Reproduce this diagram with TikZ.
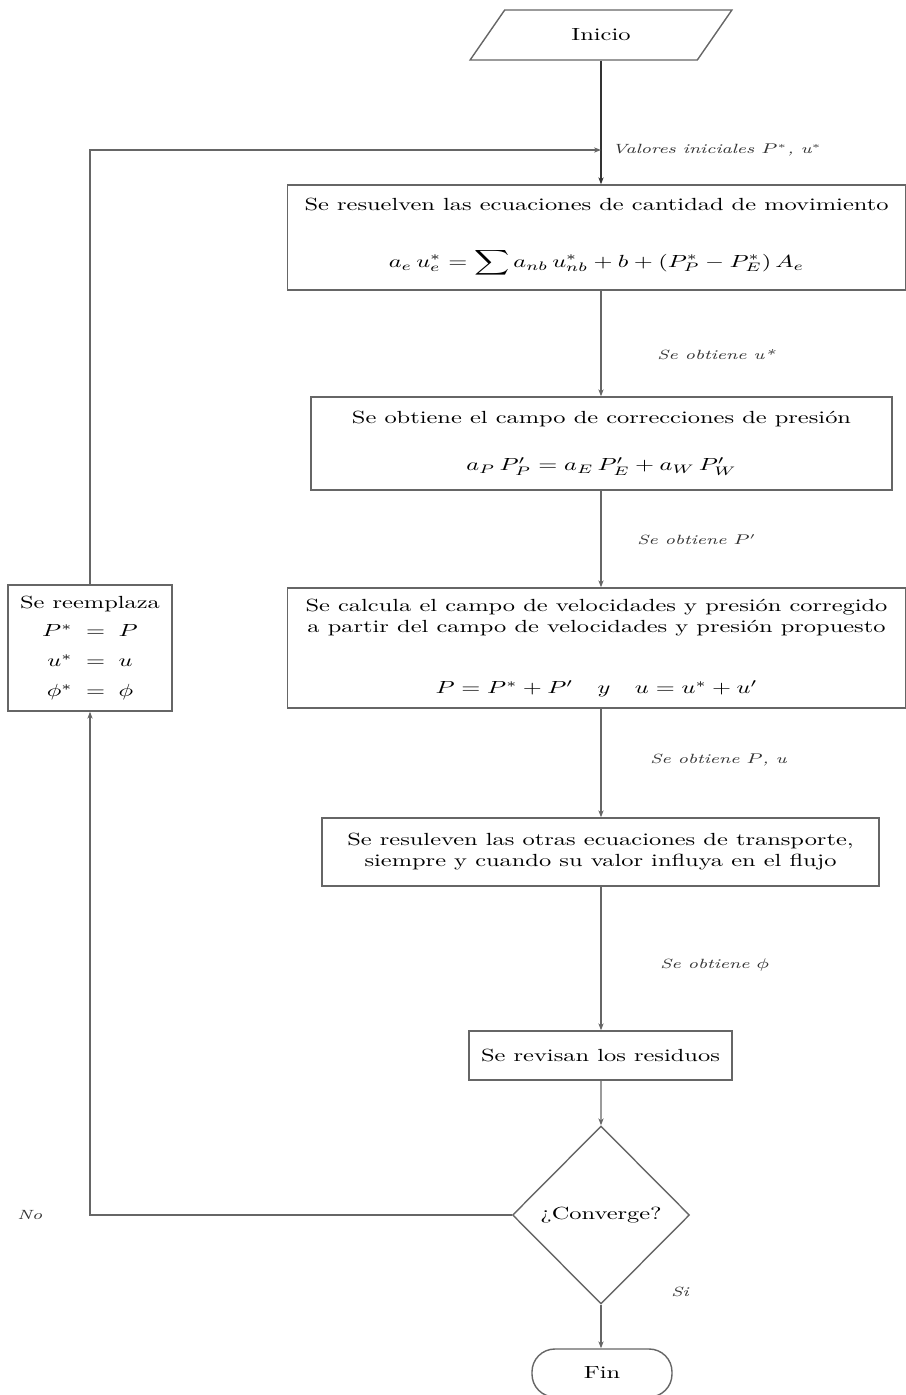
\documentclass[tikz,border=0pt]{standalone}
\usepackage{amsmath,amssymb}
\usepackage{graphicx}
\usetikzlibrary{shapes.geometric, arrows.meta, positioning}

% texto ensanchado horizontalmente
\newcommand{\ancho}[1]{\scalebox{1.39}[1]{#1}}

\begin{document}
\begin{tikzpicture}[
    font=\fontsize{10}{12}\selectfont,
    >={Stealth[length=4pt,width=3pt]},
    % Styles
    proceso/.style={rectangle, draw=black!60, thick, align=center, inner sep=3pt},
    inicio/.style={trapezium, trapezium left angle=62, trapezium right angle=118, trapezium stretches=true, draw=black!60, thick, minimum width=5.26cm, minimum height=1cm},
    decision/.style={diamond, draw=black!60, thick, minimum width=3.54cm, minimum height=3.56cm, inner sep=0pt},
    final/.style={rectangle, rounded corners=13pt, draw=black!60, thick, minimum width=2.8cm, minimum height=0.96cm},
    flecha/.style={->, draw=black!60, thick},
    etiqueta/.style={font=\itshape\fontsize{7.6}{9}\selectfont, anchor=west, text=black!80, inner sep=0pt}
]
\useasboundingbox (0,0) rectangle (18.12,-27.9);

% --- Main column ---
\node[inicio] (ini) at (12.02,-0.7) {\ancho{Inicio}};

\node[proceso, minimum width=12.36cm, minimum height=2.1cm] (mov) at (11.93,-4.75) {
    \ancho{Se resuelven las ecuaciones de cantidad de movimiento}\\[0.72cm]
    \ancho{$\displaystyle a_e\, u_e^{*} = \sum a_{nb}\, u_{nb}^{*} + b + (P_P^{*} - P_E^{*})\, A_e$}
};
\node[proceso, minimum width=11.62cm, minimum height=1.86cm] (pres) at (12.03,-8.87) {
    \ancho{Se obtiene el campo de correcciones de presi\'on}\\[0.52cm]
    \ancho{$a_P\, P_P' = a_E\, P_E' + a_W\, P_W'$}
};
\node[proceso, minimum width=12.36cm, minimum height=2.4cm] (corr) at (11.93,-12.96) {
    \ancho{Se calcula el campo de velocidades y presi\'on corregido}\\
    \ancho{a partir del campo de velocidades y presi\'on propuesto}\\[0.8cm]
    \ancho{$P = P^{*} + P' \quad y \quad u = u^{*} + u'$}
};
\node[proceso, minimum width=11.14cm, minimum height=1.36cm] (trans) at (12.01,-17.04) {
    \ancho{Se resuleven las otras ecuaciones de transporte,}\\
    \ancho{siempre y cuando su valor influya en el flujo}
};
\node[proceso, minimum width=5.26cm, minimum height=0.98cm] (resid) at (12.01,-21.11) {\ancho{Se revisan los residuos}};
\node[decision] (conv) at (12.02,-24.3) {\ancho{?`Converge?}};
\node[final] (fin) at (12.04,-27.46) {\ancho{Fin}};

% --- Left column ---
\node[proceso, minimum width=3.28cm, minimum height=2.52cm] (reemp) at (1.8,-12.96) {
    \ancho{Se reemplaza}\\[4pt]
    \ancho{$P^{*} \;=\; P$}\\[5pt]
    \ancho{$u^{*} \;=\; u$}\\[5pt]
    \ancho{$\phi^{*} \;=\; \phi$}
};

\coordinate (lazo) at (12.02,-3.0);

% --- Connections ---
\draw[->, draw=black!80, very thick] (ini.south) -- (ini.south |- mov.north);
\draw[flecha] (reemp.north) |- (lazo);
\draw[flecha] (ini.south |- mov.south) -- (ini.south |- pres.north);
\draw[flecha] (ini.south |- pres.south) -- (ini.south |- corr.north);
\draw[flecha] (ini.south |- corr.south) -- (ini.south |- trans.north);
\draw[flecha] (ini.south |- trans.south) -- (ini.south |- resid.north);
\draw[flecha] (ini.south |- resid.south) -- (conv.north);
\draw[flecha] (conv.south) -- (conv.south |- fin.north);
\draw[flecha] (conv.west) -| (reemp.south);

% --- Labels ---
\node[etiqueta] (lvalores) at (12.24,-3.0) {\ancho{Valores iniciales $P^{*}$, u$^{*}$}};
\node[etiqueta] (lustar) at (13.14,-7.1) {\ancho{Se obtiene u*}};
\node[etiqueta] (lpprima) at (12.74,-10.8) {\ancho{Se obtiene $P'$}};
\node[etiqueta] (lpu) at (13.0,-15.2) {\ancho{Se obtiene $P$, u}};
\node[etiqueta] (lphi) at (13.2,-19.3) {\ancho{Se obtiene $\phi$}};
\node[etiqueta] (lsi) at (13.42,-25.84) {\ancho{Si}};
\node[etiqueta] (lno) at (0.34,-24.3) {\ancho{No}};

\end{tikzpicture}
\end{document}
